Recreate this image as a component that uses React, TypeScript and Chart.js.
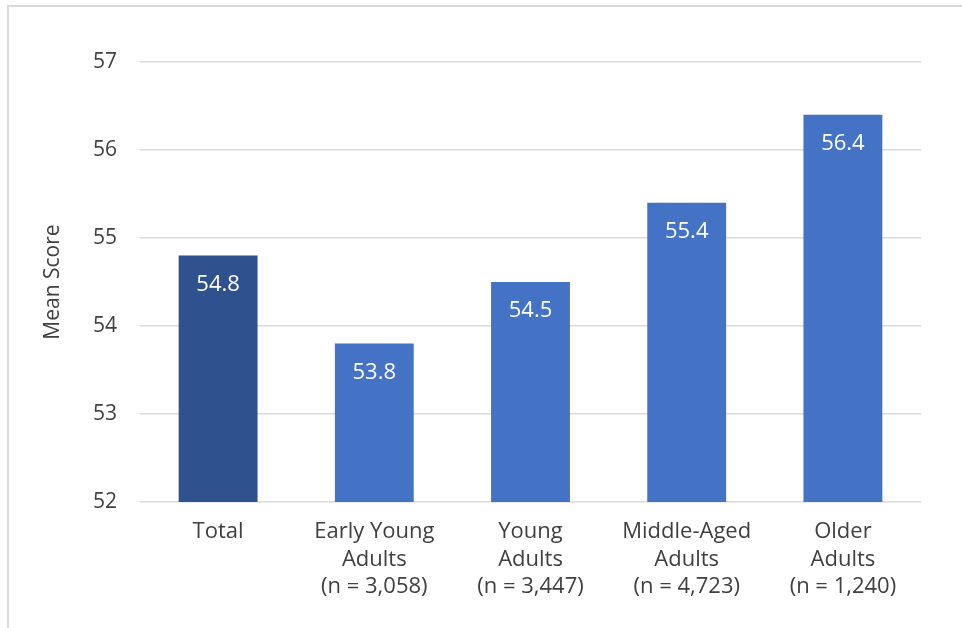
import React, { useEffect, useRef } from "react";
import { Chart, registerables } from "chart.js";

Chart.register(...registerables);

// Mean score by age group
const categories: string[][] = [
  ["Total"],
  ["Early Young", "Adults", "(n = 3,058)"],
  ["Young", "Adults", "(n = 3,447)"],
  ["Middle-Aged", "Adults", "(n = 4,723)"],
  ["Older", "Adults", "(n = 1,240)"],
];
const meanScores: number[] = [54.8, 53.8, 54.5, 55.4, 56.4];
const barColors: string[] = ["#2F528F", "#4472C4", "#4472C4", "#4472C4", "#4472C4"];
const yMin = 52;
const yMax = 57;
const yTitle = "Mean Score";

const FONT = "'Open Sans', 'Noto Sans', sans-serif";
const TEXT = "#404040";

// Writes each bar's value in white just under its top edge
const valueLabels = {
  id: "valueLabels",
  afterDatasetsDraw(chart: any) {
    const ctx = chart.ctx;
    const meta = chart.getDatasetMeta(0);
    const data = chart.data.datasets[0].data as number[];
    ctx.save();
    ctx.fillStyle = "#FFFFFF";
    ctx.font = `22px ${FONT}`;
    ctx.textAlign = "center";
    ctx.textBaseline = "middle";
    meta.data.forEach((bar: any, i: number) => {
      ctx.fillText(data[i].toFixed(1), bar.x, bar.y + 29);
    });
    ctx.restore();
  },
};

export default function App() {
  const canvasRef = useRef<HTMLCanvasElement | null>(null);

  useEffect(() => {
    if (!canvasRef.current) return;
    const chart = new Chart(canvasRef.current, {
      type: "bar",
      data: {
        labels: categories,
        datasets: [
          {
            data: meanScores,
            backgroundColor: barColors,
            borderWidth: 0,
            categoryPercentage: 1,
            barPercentage: 0.505,
          },
        ],
      },
      options: {
        responsive: false,
        animation: false,
        layout: { padding: { left: 0, right: 41, top: 62, bottom: 0 } },
        plugins: {
          legend: { display: false },
          tooltip: { enabled: false },
        },
        scales: {
          x: {
            grid: { display: false, drawTicks: false },
            border: { display: false },
            ticks: {
              color: TEXT,
              padding: 16,
              maxRotation: 0,
              autoSkip: false,
              font: { family: FONT, size: 22, lineHeight: 1.25 },
            },
            afterFit(scale: any) {
              scale.height = 126;
            },
          },
          y: {
            min: yMin,
            max: yMax,
            grid: { color: "#D9D9D9", lineWidth: 1.5, drawTicks: false },
            border: { display: false },
            ticks: {
              stepSize: 1,
              color: TEXT,
              padding: 23,
              font: { family: FONT, size: 21 },
            },
            title: {
              display: true,
              text: yTitle,
              color: TEXT,
              padding: { top: 40, bottom: 0 },
              font: { family: FONT, size: 21 },
            },
            afterFit(scale: any) {
              scale.width = 140;
            },
          },
        },
      },
      plugins: [valueLabels],
    });
    return () => chart.destroy();
  }, []);

  return (
    <div style={{ position: "fixed", left: 0, top: 0, width: 962, height: 628, background: "#FFFFFF", overflow: "hidden" }}>
      <canvas ref={canvasRef} width={962} height={628} style={{ position: "absolute", left: 0, top: 0 }} />
      <div
        style={{
          position: "absolute",
          left: 7,
          top: 5,
          width: 1000,
          height: 700,
          borderLeft: "2px solid #D9D9D9",
          borderTop: "2px solid #D9D9D9",
          pointerEvents: "none",
        }}
      />
    </div>
  );
}
